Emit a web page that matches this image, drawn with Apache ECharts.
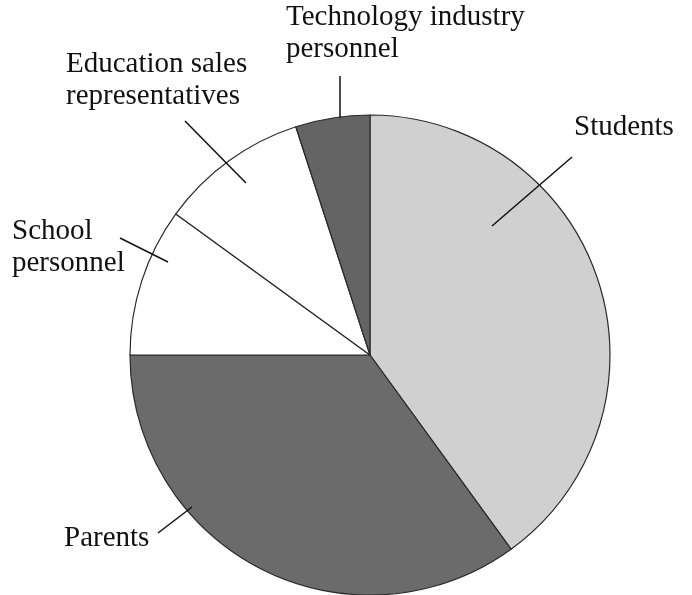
<!DOCTYPE html>
<html>
<head>
<meta charset="utf-8">
<script src="https://cdn.jsdelivr.net/npm/echarts@6/dist/echarts.min.js"></script>
<style>html,body{margin:0;padding:0;background:#fff;}#c{width:692px;height:595px;}</style>
</head>
<body>
<div id="c"></div>
<script>
const categories = ['Students', 'Parents', 'School\npersonnel', 'Education sales\nrepresentatives', 'Technology industry\npersonnel'];
const values = [40, 35, 10, 10, 5];
const colors = ['#d0d0d0', '#6b6b6b', '#ffffff', '#ffffff', '#646464'];

// label placement (text box top-left) and leader lines
const labelPos = [
  { x: 574, y: 111, line: [[572, 157], [492, 226]] },
  { x: 64, y: 522, line: [[158, 533], [192, 507]] },
  { x: 12, y: 215, line: [[120, 238], [168, 262]] },
  { x: 66, y: 48, line: [[185, 121], [246, 183]] },
  { x: 286, y: 1, line: [[340, 76], [340, 118]] }
];

const chart = echarts.init(document.getElementById('c'));
chart.setOption({
  animation: false,
  backgroundColor: '#fff',
  series: [{
    type: 'pie',
    center: [370, 355],
    radius: 240,
    startAngle: 90,
    clockwise: true,
    avoidLabelOverlap: false,
    data: categories.map((n, i) => ({ name: n, value: values[i], itemStyle: { color: colors[i] } })),
    itemStyle: { borderColor: '#2a2a2a', borderWidth: 1.2 },
    label: {
      show: true,
      position: 'outside',
      formatter: '{b}',
      fontFamily: 'Liberation Serif',
      fontSize: 29,
      lineHeight: 32,
      color: '#111',
      align: 'left'
    },
    labelLine: { show: false },
    labelLayout: function (params) {
      const p = labelPos[params.dataIndex];
      return { x: p.x, y: p.y, align: 'left', verticalAlign: 'top' };
    },
    emphasis: { disabled: true }
  }],
  graphic: labelPos.map(p => ({
    type: 'polyline',
    z: 100,
    silent: true,
    shape: { points: p.line },
    style: { stroke: '#111', lineWidth: 1.5, fill: null }
  }))
});
</script>
</body>
</html>
